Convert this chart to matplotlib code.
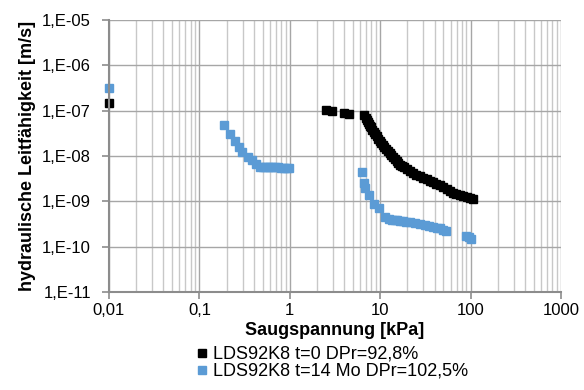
import matplotlib
matplotlib.use("Agg")
import matplotlib.pyplot as plt
from matplotlib.ticker import FixedLocator, LogLocator, NullFormatter

plt.rcParams['font.family'] = ['Liberation Sans', 'DejaVu Sans']

# Saugspannung [kPa] / hydraulische Leitfähigkeit [m/s]
s_t0 = [0.01, 2.5, 2.92, 3.96, 4.5,
        6.67, 6.93, 7.11, 7.29, 7.48, 7.67, 7.87, 8.18, 8.5, 8.83, 9.17, 9.53,
        9.9, 10.3, 10.7, 11.1, 11.5, 12.1, 12.7, 13.3, 13.8, 14.5, 15.3, 15.9,
        16.5, 17.3, 18.2, 19.7, 21.3, 23.0, 25.1, 27.4, 30.0, 32.8, 35.4,
        38.2, 41.7, 45.6, 49.9, 54.5, 58.9, 63.5, 69.5, 76.0, 83.0, 90.8,
        98.0, 105.7]
k_t0 = [1.5e-7, 1.03e-7, 9.8e-8, 9.1e-8, 8.6e-8,
        8.2e-8, 6.87e-8, 6.2e-8, 5.6e-8, 5.06e-8, 4.69e-8, 4.35e-8, 3.83e-8,
        3.37e-8, 3.04e-8, 2.75e-8, 2.42e-8, 2.13e-8, 1.93e-8, 1.74e-8,
        1.57e-8, 1.42e-8, 1.28e-8, 1.14e-8, 1.05e-8, 9.46e-9, 8.54e-9, 7.7e-9,
        6.97e-9, 6.3e-9, 5.98e-9, 5.7e-9, 5.14e-9, 4.64e-9, 4.2e-9, 3.88e-9,
        3.6e-9, 3.34e-9, 3.09e-9, 2.86e-9, 2.65e-9, 2.46e-9, 2.28e-9,
        2.06e-9, 1.86e-9, 1.70e-9, 1.56e-9, 1.44e-9, 1.37e-9, 1.30e-9,
        1.24e-9, 1.18e-9, 1.12e-9]

s_t14 = [0.01, 0.189, 0.22, 0.248, 0.274, 0.298, 0.342, 0.379, 0.423, 0.468,
         0.5, 0.532, 0.57, 0.6, 0.636, 0.68, 0.74, 0.8, 0.86, 0.92, 0.98,
         6.37, 6.59, 6.76, 7.54, 8.53, 9.72, 11.2, 12.5, 13.5, 14.5, 15.5,
         16.5, 18.0, 19.5, 21.5, 24.1, 27.5, 31.1, 34.5, 38.5, 42.0, 45.6,
         49.5, 54.0, 88.0, 95.0, 102.0]
k_t14 = [3.1e-7, 4.73e-8, 3.04e-8, 2.1e-8, 1.58e-8, 1.24e-8, 9.6e-9, 8.0e-9,
         6.6e-9, 5.8e-9, 5.7e-9, 5.6e-9, 5.6e-9, 5.6e-9, 5.6e-9, 5.6e-9,
         5.6e-9, 5.55e-9, 5.5e-9, 5.4e-9, 5.3e-9,
         4.35e-9, 2.56e-9, 1.93e-9, 1.37e-9, 8.9e-10, 6.97e-10, 4.42e-10,
         4.05e-10, 3.95e-10, 3.85e-10, 3.78e-10, 3.71e-10, 3.62e-10,
         3.53e-10, 3.45e-10, 3.35e-10, 3.15e-10, 2.98e-10, 2.86e-10,
         2.74e-10, 2.62e-10, 2.52e-10, 2.38e-10, 2.23e-10, 1.75e-10,
         1.6e-10, 1.49e-10]

label_t0 = "LDS92K8 t=0 DPr=92,8%"
label_t14 = "LDS92K8 t=14 Mo DPr=102,5%"

x_ticks = [0.01, 0.1, 1, 10, 100, 1000]
x_ticklabels = ["0,01", "0,1", "1", "10", "100", "1000"]
y_ticks = [1e-11, 1e-10, 1e-9, 1e-8, 1e-7, 1e-6, 1e-5]
y_ticklabels = ["1,E-11", "1,E-10", "1,E-09", "1,E-08", "1,E-07", "1,E-06", "1,E-05"]

fig = plt.figure(figsize=(5.84, 3.9), dpi=100)
ax = fig.add_axes([0.1866, 0.2513, 0.774, 0.6974])

ax.set_xscale('log')
ax.set_yscale('log')
ax.set_xlim(0.01, 1000)
ax.set_ylim(1e-11, 1e-5)

ax.xaxis.set_major_locator(FixedLocator(x_ticks))
ax.xaxis.set_minor_locator(LogLocator(base=10, subs=range(2, 10), numticks=20))
ax.xaxis.set_minor_formatter(NullFormatter())
ax.set_xticklabels(x_ticklabels)
ax.yaxis.set_major_locator(FixedLocator(y_ticks))
ax.yaxis.set_minor_locator(FixedLocator([]))
ax.set_yticklabels(y_ticklabels)

ax.grid(True, which='major', color='#a6a6a6', linewidth=1.0)
ax.grid(True, which='minor', axis='x', color='#c8c8c8', linewidth=1.0)
ax.set_axisbelow(True)

for side in ['top', 'right']:
    ax.spines[side].set_visible(False)
for side in ['left', 'bottom']:
    ax.spines[side].set_color('#8c8c8c')
    ax.spines[side].set_linewidth(1.5)

ax.tick_params(which='major', length=5, width=1.2, color='#8c8c8c', labelsize=12)
ax.tick_params(axis='x', which='major', pad=3)
ax.tick_params(axis='y', which='major', pad=8)
ax.tick_params(which='minor', length=0)

ax.plot(s_t0, k_t0, 's', color='black', markersize=6, linestyle='none',
        label=label_t0, clip_on=False)
ax.plot(s_t14, k_t14, 's', color='#5b9bd5', markersize=6, linestyle='none',
        label=label_t14, clip_on=False)

ax.set_xlabel("Saugspannung [kPa]", fontsize=13, fontweight='bold', labelpad=3)
ax.set_ylabel("hydraulische Leitfähigkeit [m/s]", fontsize=13, fontweight='bold',
              labelpad=4)

fig.legend(loc='upper left', bbox_to_anchor=(0.321, 0.136), frameon=False,
           fontsize=13, handlelength=0.6, handletextpad=0.3, labelspacing=0.0,
           borderpad=0, markerscale=1.0)

fig.savefig("out.png", dpi=100)
